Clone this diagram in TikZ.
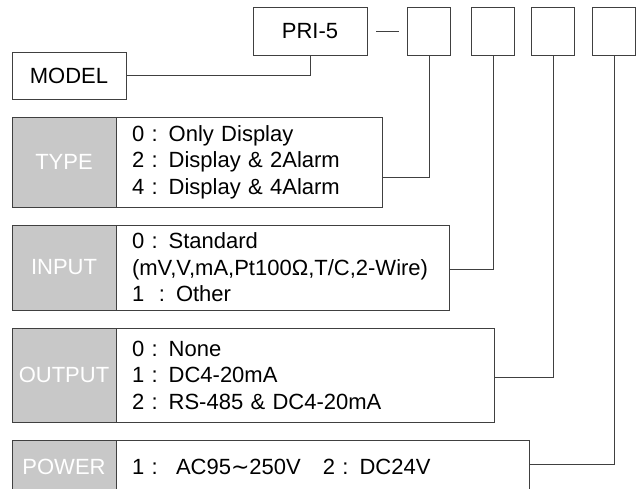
\documentclass[tikz,border=0pt]{standalone}
\usepackage{fontspec}
\setmainfont{Liberation Sans}
\newfontfamily\symfont{DejaVu Sans}
\usepackage{xcolor}
\usepackage{tikz}
\usetikzlibrary{positioning}

\definecolor{lineclr}{HTML}{404040}
\definecolor{cellgray}{HTML}{C8C8C8}

\begin{document}
\begin{tikzpicture}[x=1pt, y=-1pt,
  every node/.style={outer sep=0pt, font=\fontsize{22}{26.5}\selectfont},
  codebox/.style={draw=lineclr, line width=1pt, fill=white, minimum height=48pt, inner sep=0pt},
  keycell/.style={draw=lineclr, line width=1pt, fill=cellgray, text=white, minimum width=104pt, inner sep=0pt},
  valcell/.style={draw=lineclr, line width=1pt, fill=white, align=left, inner xsep=16pt, inner ysep=0pt, right=0pt of #1},
  conn/.style={draw=lineclr, line width=1pt}
]
  \useasboundingbox (0,0) rectangle (637,488);
  \clip (0,0) rectangle (637,488);

  % order code boxes
  \node[codebox, minimum width=114pt] (pri) at (310,31) {PRI-5};
  \node[codebox, minimum width=43pt] (b1) at (429,31) {};
  \node[codebox, minimum width=43pt] (b2) at (493,31) {};
  \node[codebox, minimum width=43pt] (b3) at (553,31) {};
  \node[codebox, minimum width=43pt] (b4) at (614,31) {};
  \node[codebox, minimum width=114pt, minimum height=47pt] (m) at (69,75.5) {MODEL};

  % option tables
  \node[keycell, minimum height=90pt] (typ) at (64,162) {TYPE};
  \node[valcell=typ, text width=234pt, minimum height=90pt] (typv)
    {0 : Only Display\\2 : Display \& 2Alarm\\4 : Display \& 4Alarm};
  \node[keycell, minimum height=85pt] (inp) at (64,267.5) {INPUT};
  \node[valcell=inp, text width=301pt, minimum height=85pt] (inpv)
    {0 : Standard\\(mV,V,mA,Pt100Ω,T/C,2-Wire)\\1 \ : Other};
  \node[keycell, minimum height=94pt] (out) at (64,375) {OUTPUT};
  \node[valcell=out, text width=346pt, minimum height=94pt] (outv)
    {0 : None\\1 : DC4-20mA\\2 : RS-485 \& DC4-20mA};
  \node[keycell, minimum height=54pt] (pwr) at (64,467) {POWER};
  \node[valcell=pwr, text width=381pt, minimum height=54pt] (pwrv)
    {1 : \ AC95{\symfont ∼}250V \ \ 2 : DC24V};

  \draw[conn, shorten <=9pt, shorten >=9pt] (pri.east) -- (b1.west);
  \draw[conn] (m.east) -| (pri.south);
  \draw[conn] ([yshift=-15pt]typv.east) -| (b1.south);
  \draw[conn] ([yshift=-1.5pt]inpv.east) -| (b2.south);
  \draw[conn] ([yshift=-2pt]outv.east) -| (b3.south);
  \draw[conn] ([yshift=3pt]pwrv.east) -| (b4.south);
\end{tikzpicture}
\end{document}
